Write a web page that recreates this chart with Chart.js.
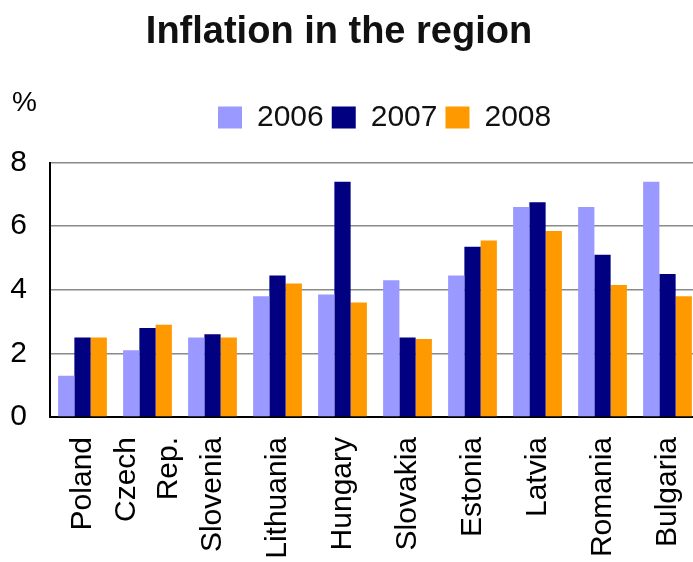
<!DOCTYPE html>
<html>
<head>
<meta charset="utf-8">
<script src="https://cdn.jsdelivr.net/npm/chart.js@4/dist/chart.umd.min.js"></script>
<style>
  html, body { margin: 0; padding: 0; background: #fff; overflow: hidden; }
  #wrap { position: relative; width: 705px; height: 562px; }
</style>
</head>
<body>
<div id="wrap"><canvas id="c" width="705" height="562"></canvas></div>
<script>
const categories = ['Poland', ['Czech', 'Rep.'], 'Slovenia', 'Lithuania', 'Hungary', 'Slovakia', 'Estonia', 'Latvia', 'Romania', 'Bulgaria'];
const seriesNames = ['2006', '2007', '2008'];
const values2006 = [1.3, 2.1, 2.5, 3.8, 3.85, 4.3, 4.45, 6.6, 6.6, 7.4];
const values2007 = [2.5, 2.8, 2.6, 4.45, 7.4, 2.5, 5.35, 6.75, 5.1, 4.5];
const values2008 = [2.5, 2.9, 2.5, 4.2, 3.6, 2.45, 5.55, 5.85, 4.15, 3.8];
const yMin = 0, yMax = 8, yStep = 2;
const titleText = 'Inflation in the region';
const unitText = '%';

const FONT = '"Liberation Sans", Arial, sans-serif';

const layoutTweaks = {
  id: 'layoutTweaks',
  beforeLayout(chart) {
    const lg = chart.legend;
    if (lg && !lg.$patched) {
      lg.$patched = true;
      const f = lg.fit;
      lg.fit = function () { f.call(this); this.height += 20; };
    }
  },
  afterLayout(chart) {
    const t = chart.titleBlock;
    if (t) { t.left -= 11; t.right -= 11; }
    const l = chart.legend;
    if (l) { const w = l.right - l.left; l.left = 210; l.right = 210 + w; }
  },
  beforeDraw(chart) {
    const xs = chart.scales.x;
    const items = xs.getLabelItems(chart.chartArea);
    if (!chart.$adjusted) chart.$adjusted = new WeakSet();
    if (chart.$adjusted.has(items)) return;
    chart.$adjusted.add(items);
    items.forEach(it => {
      if (Array.isArray(it.label) && it.label.length > 1) {
        const lh = it.font.lineHeight;
        it.options.translation[0] -= (it.label.length - 1) * lh / 2;
      }
    });
  },
  afterDraw(chart) {
    const ctx = chart.ctx;
    ctx.save();
    ctx.fillStyle = '#000';
    ctx.font = '28px ' + FONT;
    ctx.textAlign = 'left';
    ctx.textBaseline = 'middle';
    ctx.fillText(unitText, 12, 103);
    ctx.restore();
  }
};

new Chart(document.getElementById('c'), {
  type: 'bar',
  data: {
    labels: categories,
    datasets: [
      { label: seriesNames[0], data: values2006, backgroundColor: '#9999FF' },
      { label: seriesNames[1], data: values2007, backgroundColor: '#000080' },
      { label: seriesNames[2], data: values2008, backgroundColor: '#FF9900' }
    ]
  },
  options: {
    responsive: false,
    animation: false,
    devicePixelRatio: 1,
    layout: { padding: { left: 0, right: 5, top: 0, bottom: 0 } },
    datasets: { bar: { categoryPercentage: 0.75, barPercentage: 1.0, borderWidth: 0 } },
    plugins: {
      tooltip: { enabled: false },
      title: {
        display: true,
        text: titleText,
        color: '#111',
        font: { family: FONT, size: 38, weight: 'bold', lineHeight: 1.2 },
        padding: { top: 10, bottom: 39 }
      },
      legend: {
        display: true,
        align: 'start',
        labels: {
          color: '#111',
          font: { family: FONT, size: 30 },
          boxWidth: 24,
          boxHeight: 22,
          padding: 8
        }
      }
    },
    scales: {
      x: {
        grid: { display: false, drawTicks: false },
        border: { display: true, color: '#000', width: 2 },
        ticks: {
          color: '#000',
          font: { family: FONT, size: 30, lineHeight: 1.4 },
          minRotation: 90,
          maxRotation: 90,
          autoSkip: false,
          padding: 20
        },
        afterFit(scale) { scale.height = 145; scale.paddingLeft = 0; scale.paddingRight = 0; }
      },
      y: {
        min: yMin,
        max: yMax,
        grid: { color: '#8a8a8a', lineWidth: 1.5, drawTicks: false },
        border: { display: true, color: '#000', width: 2 },
        ticks: {
          stepSize: yStep,
          color: '#000',
          font: { family: FONT, size: 30 },
          padding: 23
        },
        afterFit(scale) { scale.width = 50; }
      }
    }
  },
  plugins: [layoutTweaks]
});
</script>
</body>
</html>
